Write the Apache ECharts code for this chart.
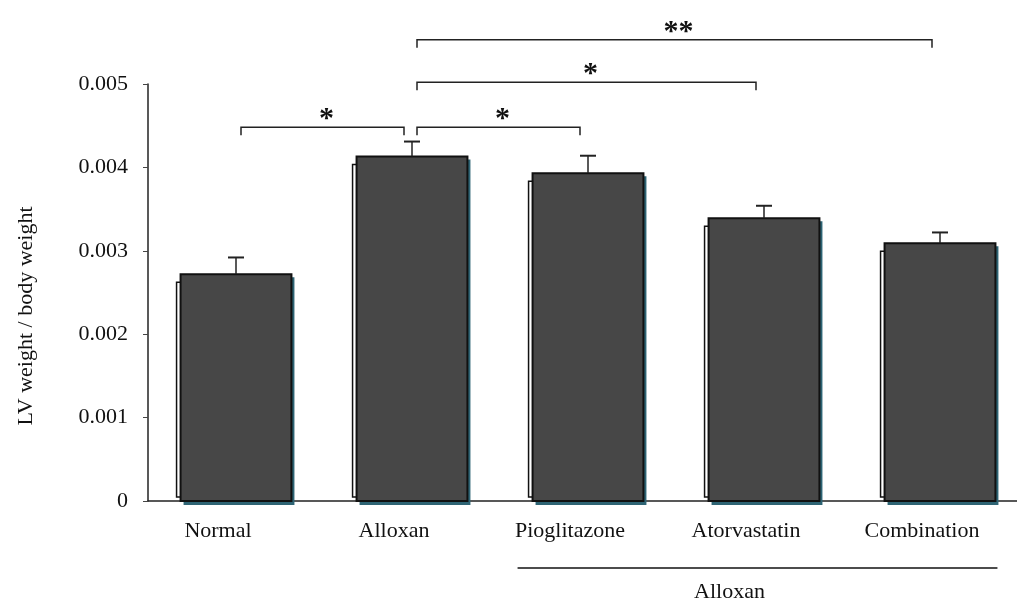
<!DOCTYPE html>
<html>
<head>
<meta charset="utf-8">
<script src="https://cdn.jsdelivr.net/npm/echarts@6/dist/echarts.min.js"></script>
<style>html,body{margin:0;padding:0;background:#fff;}#c{width:1017px;height:603px;}</style>
</head>
<body>
<div id="c"></div>
<script>
var categories = ['Normal', 'Alloxan', 'Pioglitazone', 'Atorvastatin', 'Combination'];
var means = [0.00272, 0.00413, 0.00393, 0.00339, 0.00309];
var errors = [0.00020, 0.00018, 0.00021, 0.00015, 0.00013];
var yTicks = [0, 0.001, 0.002, 0.003, 0.004, 0.005];
var bracketFrom = [0, 1, 1, 1];
var bracketTo = [1, 2, 3, 4];
var bracketLevel = [0.00448, 0.00448, 0.00502, 0.00553];
var bracketLabel = ['*', '*', '*', '**'];
var groupLabel = 'Alloxan';
var yName = 'LV weight / body weight';

var FONT = '"Liberation Serif", "Times New Roman", serif';
var chart = echarts.init(document.getElementById('c'), null, {renderer: 'canvas'});

var barData = categories.map(function (c, i) { return [i, means[i], means[i] + errors[i]]; });
var brData = bracketFrom.map(function (f, i) { return [f, bracketTo[i], bracketLevel[i], i]; });

chart.setOption({
  animation: false,
  backgroundColor: '#fff',
  grid: {left: 148, top: 84, width: 880, bottom: 102, containLabel: false, outerBoundsMode: 'none'},
  xAxis: {
    type: 'category',
    data: categories,
    boundaryGap: true,
    axisLine: {lineStyle: {color: '#222', width: 1.5}},
    axisTick: {show: false},
    axisLabel: {color: '#111', fontFamily: FONT, fontSize: 22, margin: 19, padding: [0, 36, 0, 0]}
  },
  yAxis: {
    type: 'value',
    min: 0, max: 0.005, interval: 0.001,
    splitLine: {show: false},
    axisLine: {show: true, lineStyle: {color: '#222', width: 1.5}},
    axisTick: {show: true, length: 5, lineStyle: {color: '#444'}},
    axisLabel: {
      color: '#111', fontFamily: FONT, fontSize: 22, margin: 20,
      formatter: function (v) {
        for (var i = 0; i < yTicks.length; i++) {
          if (Math.abs(yTicks[i] - v) < 1e-9) return v === 0 ? '0' : yTicks[i].toFixed(3);
        }
        return '';
      }
    }
  },
  series: [
    {
      type: 'custom',
      data: barData,
      encode: {x: 0, y: 1},
      clip: false,
      renderItem: function (params, api) {
        var i = api.value(0), v = api.value(1), e = api.value(2);
        var p = api.coord([i, v]);
        var p0 = api.coord([i, 0]);
        var pe = api.coord([i, e]);
        var w = api.size([1, 0])[0] * 0.63;
        var x0 = p[0] - w / 2;
        return {
          type: 'group',
          children: [
            {type: 'rect', shape: {x: x0 - 4, y: p[1] + 8, width: w, height: p0[1] - 4 - (p[1] + 8)},
             style: {fill: '#fff', stroke: '#111', lineWidth: 1.5}},
            {type: 'rect', shape: {x: x0 + 3, y: p[1] + 3, width: w, height: p0[1] - p[1] + 1},
             style: {fill: '#2e6474', stroke: null}},
            {type: 'rect', shape: {x: x0, y: p[1], width: w, height: p0[1] - p[1]},
             style: {fill: '#474747', stroke: '#111', lineWidth: 2}},
            {type: 'line', shape: {x1: p[0], y1: p[1], x2: p[0], y2: pe[1]},
             style: {stroke: '#222', lineWidth: 1.5}},
            {type: 'line', shape: {x1: p[0] - 8, y1: pe[1], x2: p[0] + 8, y2: pe[1]},
             style: {stroke: '#222', lineWidth: 2}}
          ]
        };
      }
    },
    {
      type: 'custom',
      data: brData,
      encode: {x: [0, 1], y: 2},
      clip: false,
      renderItem: function (params, api) {
        var a = api.coord([api.value(0), api.value(2)]);
        var b = api.coord([api.value(1), api.value(2)]);
        var xa = a[0] + 5, xb = b[0] - 8, y = a[1];
        var lbl = bracketLabel[api.value(3)];
        return {
          type: 'group',
          children: [
            {type: 'polyline', shape: {points: [[xa, y + 8], [xa, y], [xb, y], [xb, y + 8]]},
             style: {stroke: '#222', lineWidth: 1.5, fill: null}},
            {type: 'text', x: (xa + xb) / 2 + 4, y: y + 7,
             style: {text: lbl, fill: '#111', font: 'bold 30px ' + FONT, align: 'center', verticalAlign: 'bottom'}}
          ]
        };
      }
    }
  ]
});

var pl = chart.convertToPixel({xAxisIndex: 0, yAxisIndex: 0}, [2, 0]);
var pr = chart.convertToPixel({xAxisIndex: 0, yAxisIndex: 0}, [4, 0]);
var step = chart.convertToPixel({xAxisIndex: 0}, 1) - chart.convertToPixel({xAxisIndex: 0}, 0);
var lx1 = pl[0] - step * 0.315 - 15, lx2 = pr[0] + step * 0.315 + 2;
chart.setOption({
  graphic: [
    {type: 'line', shape: {x1: lx1, y1: 568, x2: lx2, y2: 568}, style: {stroke: '#111', lineWidth: 1.5}},
    {type: 'text', x: (lx1 + lx2) / 2 - 28, y: 592,
     style: {text: groupLabel, fill: '#111', font: '22px ' + FONT, align: 'center', verticalAlign: 'middle'}},
    {type: 'text', x: 26, y: 316, rotation: Math.PI / 2,
     style: {text: yName, fill: '#111', font: '22px ' + FONT, align: 'center', verticalAlign: 'middle'}}
  ]
});
</script>
</body>
</html>
